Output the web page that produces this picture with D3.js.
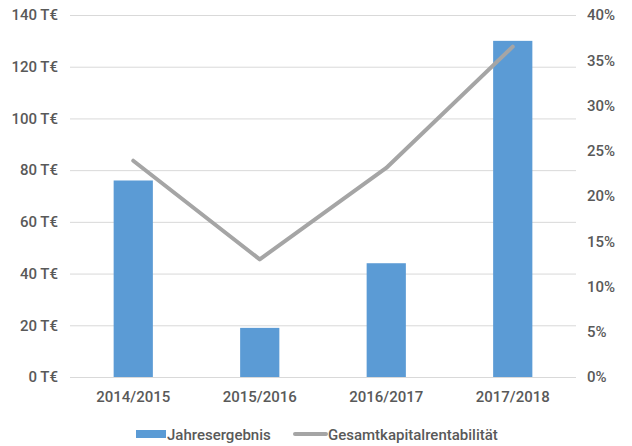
<!DOCTYPE html>
<html>
<head>
<meta charset="utf-8">
<script src="https://cdn.jsdelivr.net/npm/d3@7"></script>
<style>
  html, body { margin: 0; padding: 0; background: #fff; }
  svg text { font-family: Roboto, "Liberation Sans", sans-serif; fill: #595959; }
</style>
</head>
<body>
<svg id="chart" width="632" height="446"></svg>
<script>
// Geschäftsjahre mit Jahresergebnis (T€) und Gesamtkapitalrentabilität (%)
const categories = ["2014/2015", "2015/2016", "2016/2017", "2017/2018"];
const jahresergebnis = [76, 19, 44, 130];
const gesamtkapitalrentabilitaet = [23.9, 13.0, 23.1, 36.5];
const leftTicks = [0, 20, 40, 60, 80, 100, 120, 140];
const rightTicks = [0, 5, 10, 15, 20, 25, 30, 35, 40];
const seriesNames = ["Jahresergebnis", "Gesamtkapitalrentabilität"];

const blue = "#5b9bd5", gray = "#a5a5a5", grid = "#d9d9d9";
const svg = d3.select("#chart");
const plot = { left: 70, right: 576, top: 15, bottom: 377 };

const x = d3.scaleBand().domain(categories).range([plot.left, plot.right]);
const yL = d3.scaleLinear().domain([0, 140]).range([plot.bottom, plot.top]);
const yR = d3.scaleLinear().domain([0, 40]).range([plot.bottom, plot.top]);

// Gitternetzlinien
svg.append("g").selectAll("line").data(leftTicks).join("line")
  .attr("x1", plot.left).attr("x2", plot.right)
  .attr("y1", d => yL(d) + 0.5).attr("y2", d => yL(d) + 0.5)
  .attr("stroke", grid).attr("stroke-width", 1);

// Linke Achse
const axisL = svg.append("g").attr("transform", `translate(${plot.left},0)`)
  .call(d3.axisLeft(yL).tickValues(leftTicks).tickFormat(d => d + " T€").tickSize(0).tickPadding(12));
axisL.select(".domain").remove();
axisL.selectAll("text").attr("font-size", 15).attr("font-weight", 500).style("font-family", "Roboto");

// Rechte Achse
const axisR = svg.append("g").attr("transform", `translate(${plot.right},0)`)
  .call(d3.axisRight(yR).tickValues(rightTicks).tickFormat(d => d + "%").tickSize(0).tickPadding(11));
axisR.select(".domain").remove();
axisR.selectAll("text").attr("font-size", 15).attr("font-weight", 500).style("font-family", "Roboto");

// Untere Achse
const axisB = svg.append("g").attr("transform", `translate(0,${plot.bottom})`)
  .call(d3.axisBottom(x).tickSize(0).tickPadding(14));
axisB.select(".domain").remove();
axisB.selectAll("text").attr("font-size", 15).attr("font-weight", 500).style("font-family", "Roboto");

// Balken
const bw = x.bandwidth() * 0.31;
svg.append("g").selectAll("rect").data(jahresergebnis).join("rect")
  .attr("x", (d, i) => x(categories[i]) + x.bandwidth() / 2 - bw / 2)
  .attr("width", bw)
  .attr("y", d => yL(d))
  .attr("height", d => yL(0) - yL(d))
  .attr("fill", blue);

// Linie
const line = d3.line()
  .x((d, i) => x(categories[i]) + x.bandwidth() / 2)
  .y(d => yR(d));
svg.append("path").datum(gesamtkapitalrentabilitaet)
  .attr("d", line).attr("fill", "none")
  .attr("stroke", gray).attr("stroke-width", 4)
  .attr("stroke-linecap", "round").attr("stroke-linejoin", "round");

// Legende
const lg = svg.append("g").attr("transform", "translate(0,434)");
lg.append("rect").attr("x", 136).attr("y", -4).attr("width", 30).attr("height", 8).attr("fill", blue);
lg.append("text").attr("x", 167).attr("y", 5.5).attr("font-size", 15).attr("font-weight", 500).text(seriesNames[0]);
lg.append("line").attr("x1", 295).attr("x2", 326).attr("y1", 0).attr("y2", 0)
  .attr("stroke", gray).attr("stroke-width", 4).attr("stroke-linecap", "round");
lg.append("text").attr("x", 328).attr("y", 5.5).attr("font-size", 15).attr("font-weight", 500).text(seriesNames[1]);
</script>
</body>
</html>
